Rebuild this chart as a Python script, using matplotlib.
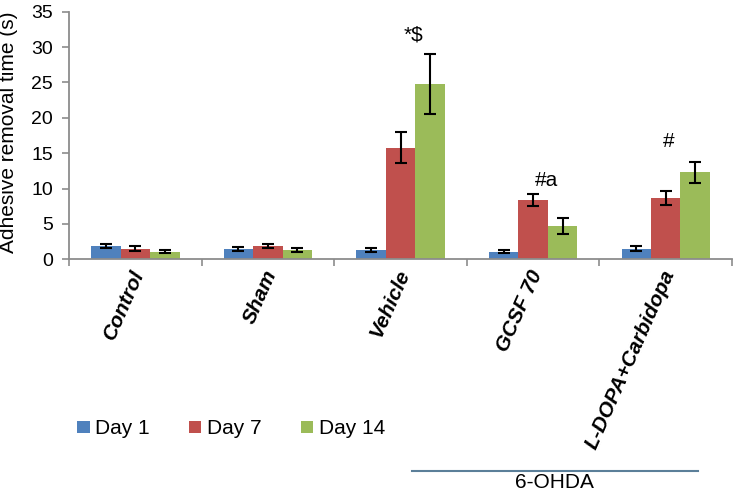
import numpy as np
import matplotlib
matplotlib.use("Agg")
import matplotlib.pyplot as plt
import matplotlib.transforms as mtransforms

plt.rcParams['font.family'] = ['Liberation Sans', 'DejaVu Sans']

categories = ["Control", "Sham", "Vehicle", "GCSF 70", "L-DOPA+Carbidopa"]
series_names = ["Day 1", "Day 7", "Day 14"]
day1 = [1.9, 1.5, 1.3, 1.1, 1.5]
day7 = [1.5, 1.9, 15.8, 8.4, 8.7]
day14 = [1.1, 1.3, 24.8, 4.7, 12.3]
err1 = [0.3, 0.3, 0.28, 0.28, 0.33]
err7 = [0.33, 0.3, 2.25, 0.9, 1.0]
err14 = [0.28, 0.28, 4.25, 1.1, 1.5]
colors = ["#4F81BD", "#C0504D", "#9BBB59"]
annot_text = ["*$", "#a", "#"]
annot_x = [2.1, 3.1, 4.02]
annot_y = [31.7, 11.2, 16.6]
yticks = [0, 5, 10, 15, 20, 25, 30, 35]
group_label = "6-OHDA"

fig = plt.figure(figsize=(7.35, 4.93), dpi=100)
ax = fig.add_axes([69/735, 1-259.3/493, 663/735, 247.6/493])

x = np.arange(len(categories))
bw = 1/4.5
vals = [day1, day7, day14]
errs = [err1, err7, err14]
for i in range(3):
    ax.bar(x + (i-1)*bw, vals[i], width=bw, color=colors[i], label=series_names[i],
           yerr=errs[i], error_kw=dict(ecolor='black', elinewidth=1.5, capsize=4, capthick=1.5),
           zorder=2)

ax.set_ylim(0, 35)
ax.set_xlim(-0.5, len(categories)-0.5)
ax.set_yticks(yticks)
ax.tick_params(axis='y', labelsize=14, direction='out', length=5, width=1.2,
               color='#8c8c8c', pad=6.5)
gray = '#8c8c8c'
for s in ['top', 'right']:
    ax.spines[s].set_visible(False)
for s in ['left', 'bottom']:
    ax.spines[s].set_color(gray)
    ax.spines[s].set_linewidth(1.3)

ax.set_xticks(x)
ax.set_xticks(np.arange(-0.5, len(categories)), minor=True)
ax.tick_params(axis='x', which='major', length=0, pad=8.5)
ax.tick_params(axis='x', which='minor', length=5, width=1.2, color=gray, direction='out')
ax.set_xticklabels(categories, rotation=66, ha='right', va='center', rotation_mode='anchor',
                   fontsize=15, fontweight='bold', fontstyle='italic')
offset = mtransforms.ScaledTranslation(4/100, 0, fig.dpi_scale_trans)
for lab in ax.get_xticklabels():
    lab.set_transform(lab.get_transform() + offset)

ax.set_ylabel("Adhesive removal time (s)", fontsize=15)
ax.yaxis.set_label_coords(-0.077, 0.512)

for t, ax_, ay in zip(annot_text, annot_x, annot_y):
    ax.text(ax_, ay, t, ha='center', va='center', fontsize=15)

leg = fig.legend(loc='center left', bbox_to_anchor=(77/735, 1-429/493), ncol=3,
                 frameon=False, fontsize=15, handlelength=0.6, handleheight=0.5,
                 handletextpad=0.25, columnspacing=1.9, borderpad=0, borderaxespad=0)

trans = mtransforms.blended_transform_factory(ax.transData, fig.transFigure)
ax.plot([2.084, 4.24], [1-471/493]*2, color='#5B7F99', lw=1.5, transform=trans, clip_on=False)
ax.text((2.084+4.24)/2, 1.5/493, group_label, transform=trans, ha='center', va='bottom',
        fontsize=15)

fig.savefig("out.png", dpi=100)
